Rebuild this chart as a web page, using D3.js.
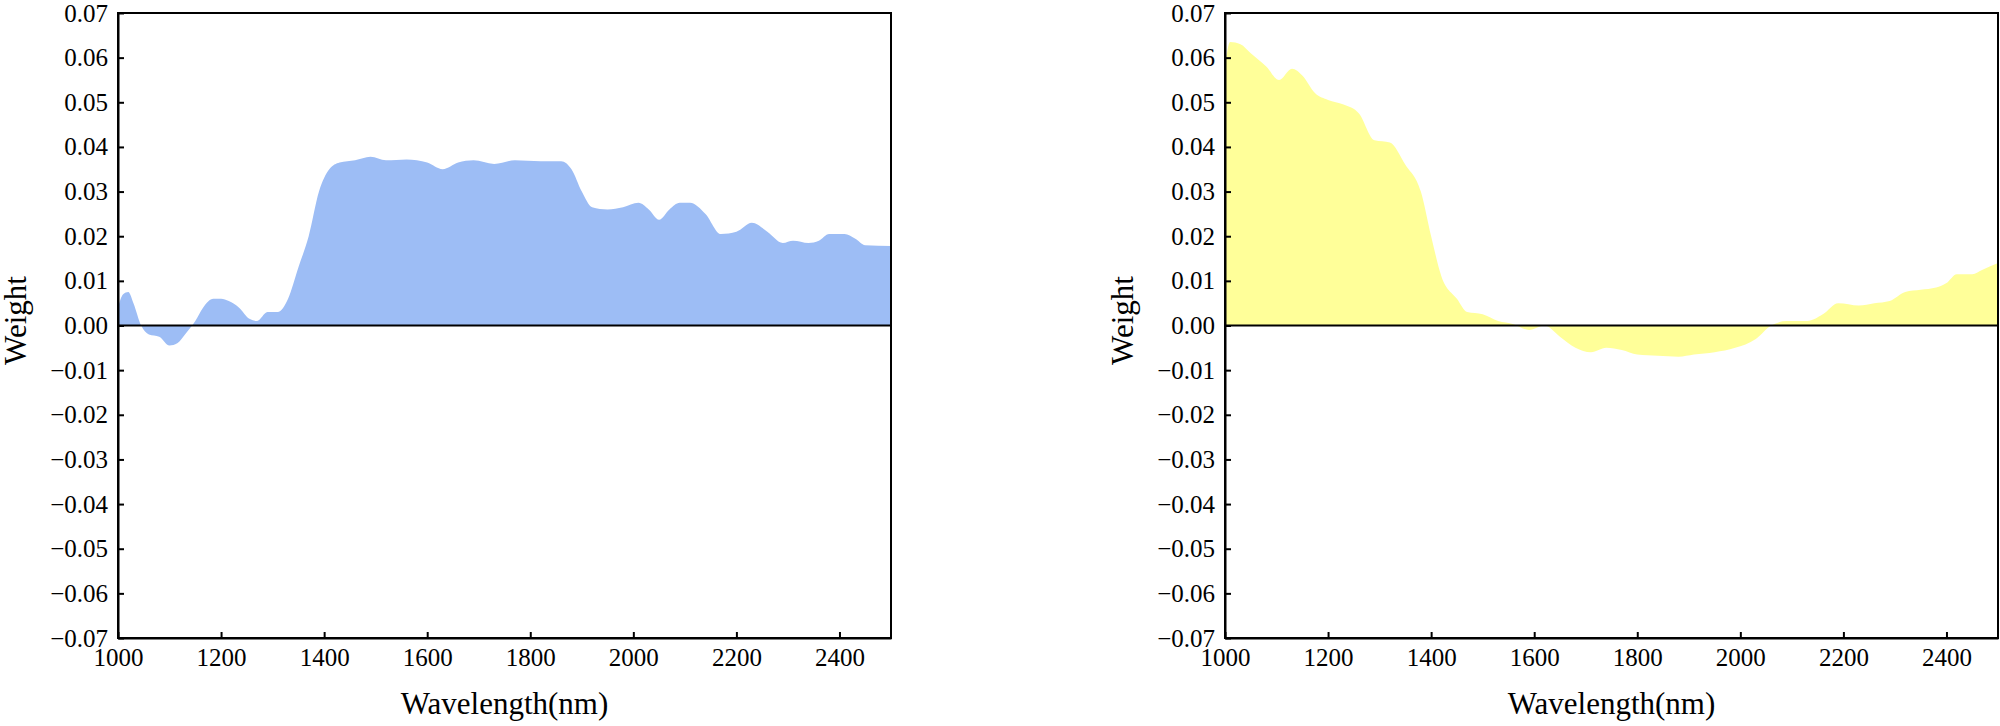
<!DOCTYPE html>
<html>
<head>
<meta charset="utf-8">
<script src="https://cdn.jsdelivr.net/npm/d3@7"></script>
<style>
body { margin: 0; background: #fff; }
text { font-family: "Liberation Serif", "Times New Roman", serif; fill: #000; }
</style>
</head>
<body>
<svg id="chart" width="2000" height="726"></svg>
<script>
let leftWave = [1000,1010,1020,1030,1045,1060,1080,1100,1115,1130,1150,1165,1185,1200,1215,1235,1255,1270,1290,1310,1330,1350,1370,1390,1410,1430,1460,1490,1520,1560,1600,1630,1660,1690,1730,1770,1820,1860,1880,1900,1920,1950,1980,2010,2030,2050,2070,2090,2110,2140,2170,2200,2230,2260,2290,2310,2340,2360,2380,2410,2430,2450,2500];
let leftWeight = [0.004,0.007,0.0075,0.005,0.000,-0.002,-0.0025,-0.0045,-0.004,-0.002,0.001,0.004,0.006,0.006,0.0055,0.004,0.0015,0.001,0.003,0.003,0.006,0.013,0.02,0.03,0.035,0.0365,0.037,0.0378,0.037,0.0372,0.0365,0.035,0.0365,0.037,0.0362,0.037,0.0368,0.0368,0.035,0.03,0.0265,0.026,0.0265,0.0275,0.026,0.0237,0.026,0.0275,0.0275,0.025,0.0205,0.021,0.023,0.021,0.0185,0.019,0.0185,0.019,0.0205,0.0205,0.0195,0.018,0.0178];

let rightWave = [1000,1010,1030,1050,1080,1105,1130,1150,1175,1200,1230,1260,1290,1320,1350,1380,1400,1420,1450,1470,1500,1530,1560,1590,1620,1650,1680,1710,1740,1770,1800,1840,1880,1910,1950,1990,2030,2060,2090,2130,2160,2190,2230,2260,2290,2320,2350,2380,2400,2420,2450,2470,2500];
let rightWeight = [0.058,0.0635,0.063,0.061,0.058,0.055,0.0575,0.056,0.052,0.0505,0.0495,0.0475,0.0415,0.041,0.036,0.03,0.02,0.011,0.006,0.003,0.0025,0.001,0.0003,-0.001,0.0,-0.0025,-0.005,-0.006,-0.005,-0.0055,-0.0065,-0.0068,-0.007,-0.0065,-0.006,-0.005,-0.003,0.0,0.001,0.001,0.0025,0.005,0.0045,0.005,0.0055,0.0075,0.008,0.0085,0.0095,0.0115,0.0115,0.0125,0.014];

let xTicks = [1000,1200,1400,1600,1800,2000,2200,2400];
let yTicks = d3.range(-7, 8).map(d => d / 100);

let svg = d3.select("#chart");

function drawPanel(left, wave, weight, color) {
	let width = 773, top = 13, bottom = 638;
	let x = d3.scaleLinear().domain([1000, 2500]).range([left, left + width]);
	let y = d3.scaleLinear().domain([-0.07, 0.07]).range([bottom, top]);
	let g = svg.append("g");
	let data = wave.map((w, i) => ({ w: w, v: weight[i] }));

	g.append("path")
		.datum(data)
		.attr("fill", color)
		.attr("d", d3.area().curve(d3.curveMonotoneX)
			.x(d => x(d.w)).y0(y(0)).y1(d => y(d.v)));

	// zero line
	g.append("line")
		.attr("x1", x(1000)).attr("x2", x(2500))
		.attr("y1", y(0)).attr("y2", y(0))
		.attr("stroke", "#000").attr("stroke-width", 2);

	let xAxis = g.append("g").attr("transform", "translate(0," + bottom + ")")
		.call(d3.axisBottom(x).tickValues(xTicks).tickFormat(d3.format("d")).tickSizeInner(-6).tickSizeOuter(0).tickPadding(10));
	let yAxis = g.append("g").attr("transform", "translate(" + left + ",0)")
		.call(d3.axisLeft(y).tickValues(yTicks).tickFormat(d3.format(".2f")).tickSizeInner(-6).tickSizeOuter(0).tickPadding(10));
	[xAxis, yAxis].forEach(a => {
		a.attr("font-family", "Liberation Serif").attr("font-size", 25);
		a.selectAll("path, line").attr("stroke", "#000").attr("stroke-width", 2);
		a.selectAll("text").attr("font-family", "Liberation Serif").attr("font-size", 25);
	});

	// frame top/right
	g.append("rect")
		.attr("x", left).attr("y", top).attr("width", width).attr("height", bottom - top)
		.attr("fill", "none").attr("stroke", "#000").attr("stroke-width", 2);

	g.append("text")
		.attr("x", left + width / 2).attr("y", 714)
		.attr("text-anchor", "middle").style("font-size", "31px")
		.text("Wavelength(nm)");
	g.append("text")
		.attr("transform", "translate(" + (left - 92) + "," + ((top + bottom) / 2 - 5) + ") rotate(-90)")
		.attr("text-anchor", "middle").style("font-size", "31px")
		.text("Weight");
}

drawPanel(118, leftWave, leftWeight, "#9dbdf5");
drawPanel(1225, rightWave, rightWeight, "#ffff99");
</script>
</body>
</html>
